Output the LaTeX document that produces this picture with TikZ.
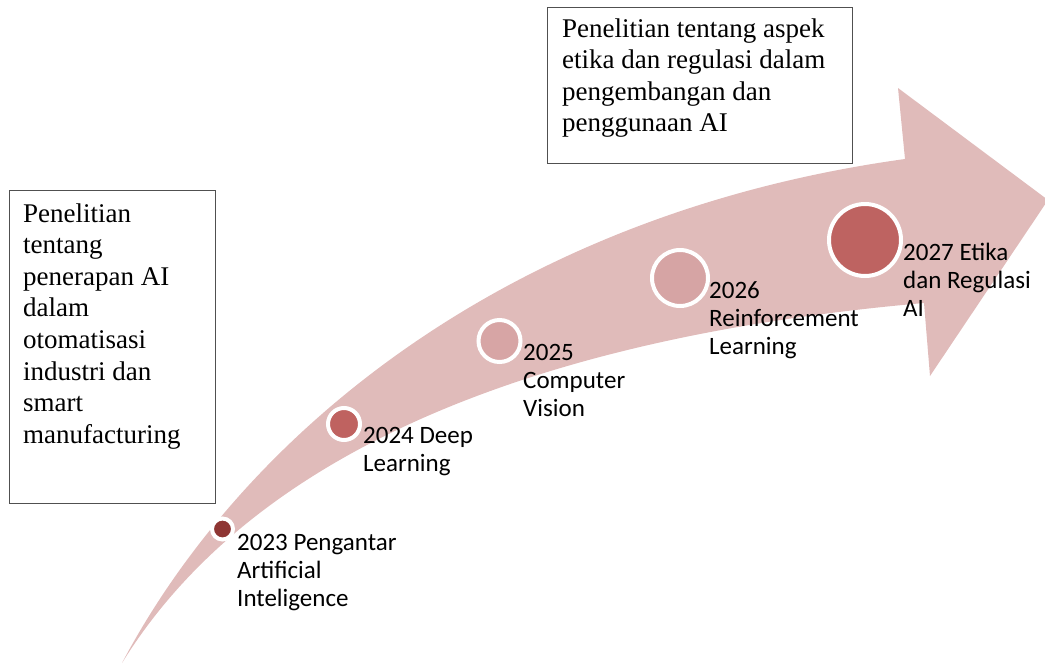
\documentclass[tikz,border=0pt]{standalone}
\usepackage{fontspec}
\setmainfont{Liberation Serif}
\newfontfamily\labfont{Carlito}
\definecolor{band}{HTML}{E0BBBA}
\definecolor{cA}{HTML}{8E3533}
\definecolor{cB}{HTML}{BF6260}
\definecolor{cC}{HTML}{D7A5A5}
\definecolor{cD}{HTML}{D6A4A4}
\definecolor{cE}{HTML}{BE6361}
\definecolor{boxline}{HTML}{505050}
\begin{document}
\begin{tikzpicture}[x=1pt,y=-1pt,
  dot/.style={circle,draw=white,line width=4pt,inner sep=0pt},
  lab/.style={anchor=base west,inner sep=0pt,align=left,font=\labfont\fontsize{25}{28.3}\selectfont,text=black},
  framebox/.style={draw=boxline,line width=1pt,fill=white,anchor=north west,inner sep=0pt},
  boxtext/.style={anchor=base west,inner sep=0pt,align=left,font=\fontsize{27}{31.6}\selectfont,text=black}]
\useasboundingbox (0,0) rectangle (1045,665);
% curved arrow
\fill[band] (122,663) .. controls (240,440) and (500,215) .. (905,159)
  -- (898,88) -- (1048,200) -- (930,376) -- (924,303)
  .. controls (560,335) and (260,440) .. (122,663) -- cycle;
% milestones
\node[dot,fill=cA,minimum size=21pt] (c1) at (222.5,529) {};
\node[dot,fill=cB,minimum size=32pt] (c2) at (344,424) {};
\node[dot,fill=cC,minimum size=42pt] (c3) at (499.5,341) {};
\node[dot,fill=cD,minimum size=56pt] (c4) at (680,278) {};
\node[dot,fill=cE,minimum size=72pt] (c5) at (865,240) {};
% labels (anchored at the baseline of their last line)
\node[lab] (l1) at (237,606.6) {2023 Pengantar\\Artificial\\Inteligence};
\node[lab] (l2) at (363,471.3) {2024 Deep\\Learning};
\node[lab] (l3) at (523,416.6) {2025\\Computer\\Vision};
\node[lab] (l4) at (709,354.6) {2026\\Reinforcement\\Learning};
\node[lab] (l5) at (903,316.6) {2027 Etika\\dan Regulasi\\AI};
% text boxes
\node[framebox,minimum width=206pt,minimum height=313pt] (lbox) at (9,190) {};
\node[boxtext] (ltext) at (23,443.2) {Penelitian\\tentang\\penerapan AI\\dalam\\otomatisasi\\industri dan\\smart\\manufacturing};
\node[framebox,minimum width=305pt,minimum height=156pt] (tbox) at (547,7) {};
\node[boxtext] (ttext) at (562,131.8) {Penelitian tentang aspek\\etika dan regulasi dalam\\pengembangan dan\\penggunaan AI};
\end{tikzpicture}
\end{document}
